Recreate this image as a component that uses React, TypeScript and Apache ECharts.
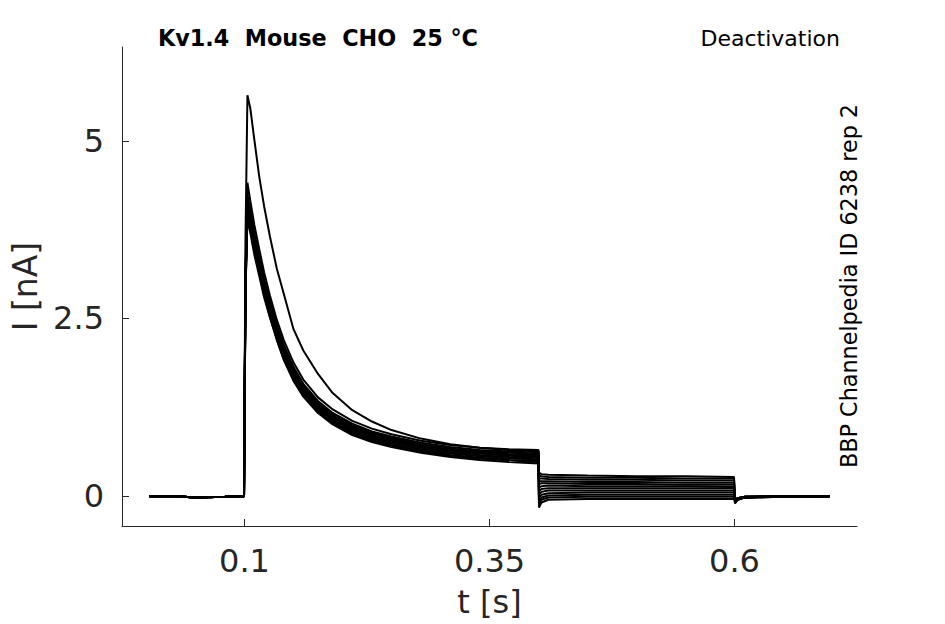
import React, { useEffect, useRef } from "react";
import * as echarts from "echarts";

// Time samples (s)
const T_BASE = [0.003, 0.03, 0.05, 0.08, 0.0995];
const T_ACT = [0.1, 0.101, 0.103, 0.106, 0.11, 0.115, 0.12, 0.126, 0.133, 0.14, 0.15, 0.16, 0.175, 0.19, 0.21, 0.23, 0.25, 0.28, 0.31, 0.34, 0.37, 0.4];
const T_DEACT = [0.4005, 0.403, 0.41, 0.45, 0.5, 0.55, 0.5995];
const T_POST = [0.6005, 0.603, 0.61, 0.65, 0.697];

// Baseline current before the step (nA)
const BASE = [0, 0, -0.02, -0.01, 0];

// Activation-step current per sweep (nA)
const ACT_U = [0, 3.6, 5.64, 5.45, 5.02, 4.5, 4.08, 3.65, 3.2, 2.85, 2.35, 2.05, 1.72, 1.45, 1.21, 1.05, 0.93, 0.81, 0.73, 0.68, 0.65, 0.63];
const ACT_B1 = [0, 3.2, 4.41, 4.15, 3.82, 3.48, 3.15, 2.82, 2.48, 2.2, 1.88, 1.64, 1.39, 1.22, 1.06, 0.95, 0.87, 0.78, 0.72, 0.68, 0.66, 0.65];
const ACT_B2 = [0, 3.1, 4.25, 4.02, 3.7, 3.38, 3.06, 2.74, 2.41, 2.13, 1.82, 1.58, 1.34, 1.17, 1.02, 0.91, 0.84, 0.75, 0.69, 0.65, 0.63, 0.62];
const ACT_B3 = [0, 3.1, 4.2, 3.98, 3.66, 3.34, 3.02, 2.71, 2.38, 2.1, 1.79, 1.56, 1.31, 1.15, 1.0, 0.9, 0.82, 0.73, 0.67, 0.63, 0.61, 0.6];
const ACT_B4 = [0, 3.05, 4.15, 3.93, 3.62, 3.3, 2.99, 2.68, 2.36, 2.08, 1.77, 1.54, 1.3, 1.13, 0.98, 0.88, 0.81, 0.72, 0.66, 0.62, 0.59, 0.58];
const ACT_B5 = [0, 3.0, 4.1, 3.88, 3.57, 3.26, 2.96, 2.66, 2.34, 2.06, 1.76, 1.52, 1.28, 1.12, 0.97, 0.87, 0.8, 0.71, 0.65, 0.61, 0.58, 0.57];
const ACT_B6 = [0, 3.0, 4.05, 3.84, 3.53, 3.23, 2.93, 2.63, 2.31, 2.03, 1.73, 1.5, 1.26, 1.1, 0.95, 0.85, 0.78, 0.7, 0.64, 0.6, 0.57, 0.55];
const ACT_B7 = [0, 2.95, 4.0, 3.8, 3.5, 3.2, 2.9, 2.6, 2.28, 2.0, 1.7, 1.47, 1.24, 1.08, 0.93, 0.83, 0.76, 0.68, 0.62, 0.58, 0.55, 0.54];
const ACT_B8 = [0, 2.9, 3.95, 3.75, 3.45, 3.15, 2.85, 2.56, 2.24, 1.97, 1.67, 1.45, 1.22, 1.06, 0.91, 0.81, 0.74, 0.66, 0.6, 0.56, 0.53, 0.52];
const ACT_B9 = [0, 3.0, 4.1, 3.86, 3.52, 3.19, 2.87, 2.56, 2.23, 1.95, 1.65, 1.43, 1.2, 1.04, 0.89, 0.79, 0.72, 0.64, 0.58, 0.54, 0.51, 0.5];
const ACT_B10 = [0, 2.85, 3.9, 3.7, 3.4, 3.1, 2.8, 2.51, 2.2, 1.93, 1.64, 1.42, 1.19, 1.03, 0.88, 0.78, 0.71, 0.63, 0.57, 0.53, 0.5, 0.48];
const ACT_B11 = [0, 2.9, 4.0, 3.78, 3.46, 3.14, 2.83, 2.52, 2.2, 1.92, 1.62, 1.4, 1.17, 1.01, 0.86, 0.76, 0.69, 0.61, 0.55, 0.51, 0.48, 0.46];

// Deactivation-step current per sweep (nA)
const DEACT_U = [0.33, 0.31, 0.3, 0.29, 0.28, 0.28, 0.27];
const DEACT_B1 = [0.29, 0.28, 0.27, 0.26, 0.26, 0.25, 0.25];
const DEACT_B2 = [0.25, 0.25, 0.24, 0.23, 0.23, 0.22, 0.22];
const DEACT_B3 = [0.21, 0.21, 0.21, 0.2, 0.2, 0.19, 0.19];
const DEACT_B4 = [0.17, 0.18, 0.18, 0.17, 0.17, 0.16, 0.16];
const DEACT_B5 = [0.12, 0.14, 0.15, 0.14, 0.14, 0.14, 0.13];
const DEACT_B6 = [0.07, 0.1, 0.11, 0.11, 0.11, 0.11, 0.11];
const DEACT_B7 = [0.02, 0.06, 0.08, 0.08, 0.08, 0.08, 0.08];
const DEACT_B8 = [-0.03, 0.02, 0.04, 0.05, 0.05, 0.05, 0.05];
const DEACT_B9 = [-0.07, -0.02, 0.01, 0.02, 0.02, 0.02, 0.02];
const DEACT_B10 = [-0.11, -0.05, -0.02, -0.01, -0.01, -0.01, -0.01];
const DEACT_B11 = [-0.16, -0.09, -0.05, -0.04, -0.04, -0.04, -0.04];

// Return to holding potential
const POST_A = [-0.1, -0.05, -0.02, -0.01, 0];
const POST_B = [-0.08, -0.04, -0.02, 0, 0];
const POST_C = [-0.05, -0.03, -0.01, 0, 0];

const SWEEPS = [
  [ACT_U, DEACT_U, POST_A],
  [ACT_B1, DEACT_B1, POST_A],
  [ACT_B2, DEACT_B2, POST_A],
  [ACT_B3, DEACT_B3, POST_B],
  [ACT_B4, DEACT_B4, POST_B],
  [ACT_B5, DEACT_B5, POST_B],
  [ACT_B6, DEACT_B6, POST_B],
  [ACT_B7, DEACT_B7, POST_C],
  [ACT_B8, DEACT_B8, POST_C],
  [ACT_B9, DEACT_B9, POST_C],
  [ACT_B10, DEACT_B10, POST_C],
  [ACT_B11, DEACT_B11, POST_C],
];

const X_TICKS = [0.1, 0.35, 0.6];
const Y_TICKS = [0, 2.5, 5];

const FONT = "DejaVu Sans";
const AXIS_COLOR = "#262626";

export default function App() {
  const ref = useRef<HTMLDivElement>(null);
  useEffect(() => {
    if (!ref.current) return;
    const chart = echarts.init(ref.current, undefined, { renderer: "svg" });
    const series = SWEEPS.map(([act, deact, post], k) => ({
      type: "line",
      name: "sweep " + (k + 1),
      showSymbol: false,
      silent: true,
      lineStyle: { color: "#000", width: 2 },
      data: [
        ...T_BASE.map((t, i) => [t, BASE[i]]),
        ...T_ACT.map((t, i) => [t, act[i]]),
        ...T_DEACT.map((t, i) => [t, deact[i]]),
        ...T_POST.map((t, i) => [t, post[i]]),
      ],
    }));
    chart.setOption({
      animation: false,
      backgroundColor: "#fff",
      grid: { left: 122, right: 88, top: 47, bottom: 98 },
      xAxis: {
        type: "value",
        min: -0.025,
        max: 0.725,
        name: "t [s]",
        nameLocation: "middle",
        nameGap: 60,
        nameTextStyle: { fontFamily: FONT, fontSize: 32, color: AXIS_COLOR },
        axisLine: { show: true, onZero: false, lineStyle: { color: AXIS_COLOR, width: 1 } },
        axisTick: { show: true, inside: true, length: 7, customValues: X_TICKS, lineStyle: { color: AXIS_COLOR } },
        axisLabel: { customValues: X_TICKS, fontFamily: FONT, fontSize: 32, color: AXIS_COLOR, margin: 19 },
        splitLine: { show: false },
      },
      yAxis: {
        type: "value",
        min: -0.42,
        max: 6.32,
        name: "I [nA]",
        nameLocation: "middle",
        nameGap: 62,
        nameTextStyle: { fontFamily: FONT, fontSize: 33, color: AXIS_COLOR },
        axisLine: { show: true, onZero: false, lineStyle: { color: AXIS_COLOR, width: 1 } },
        axisTick: { show: true, inside: true, length: 7, customValues: Y_TICKS, lineStyle: { color: AXIS_COLOR } },
        axisLabel: { customValues: Y_TICKS, fontFamily: FONT, fontSize: 32, color: AXIS_COLOR, margin: 18 },
        splitLine: { show: false },
      },
      graphic: [
        {
          type: "text",
          x: 158,
          y: 49,
          style: { text: "Kv1.4  Mouse  CHO  25 °C", fontFamily: FONT, fontWeight: "bold", fontSize: 22.3, fill: "#000", textVerticalAlign: "bottom" },
        },
        {
          type: "text",
          x: 840,
          y: 49,
          style: { text: "Deactivation", fontFamily: FONT, fontSize: 22, fill: "#000", textAlign: "right", textVerticalAlign: "bottom" },
        },
        {
          type: "text",
          x: 849,
          y: 286,
          rotation: Math.PI / 2,
          style: { text: "BBP Channelpedia ID 6238 rep 2", fontFamily: FONT, fontSize: 22.3, fill: "#000", textAlign: "center", textVerticalAlign: "middle" },
        },
      ],
      series,
    });
    return () => chart.dispose();
  }, []);
  return <div ref={ref} style={{ position: "fixed", left: 0, top: 0, width: 945, height: 624 }} />;
}
